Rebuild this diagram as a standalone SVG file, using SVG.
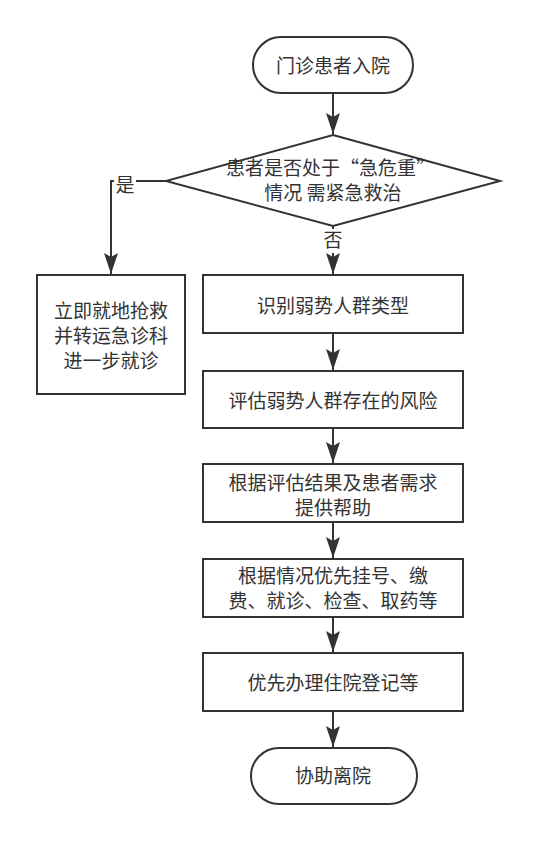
<svg xmlns="http://www.w3.org/2000/svg" width="537" height="841" viewBox="0 0 537 841">
<style>
.s{fill:#fff;stroke:#333;stroke-width:2}
.t{font-family:"Noto Sans CJK SC","Noto Sans",sans-serif;font-size:19px;fill:#333;text-anchor:middle}
.c{fill:none;stroke:#333;stroke-width:2}
</style>
<defs>
<marker id="b" markerUnits="userSpaceOnUse" markerWidth="22" markerHeight="14" refX="21" refY="7" orient="auto" viewBox="0 0 22 14">
<path d="M0,0 L21,7 L0,14 L4,7 Z" fill="#333"/>
</marker>
</defs>
<rect width="537" height="841" fill="#fff"/>
<g id="connectors">
<path class="c" d="M333,93 L333,134" marker-end="url(#b)"/>
<path class="c" d="M166,181 L111,181 L111,274" marker-end="url(#b)"/>
<path class="c" d="M333,226 L333,274" marker-end="url(#b)"/>
<path class="c" d="M333,333 L333,370" marker-end="url(#b)"/>
<path class="c" d="M333,428 L333,463" marker-end="url(#b)"/>
<path class="c" d="M333,522 L333,558" marker-end="url(#b)"/>
<path class="c" d="M333,617 L333,652" marker-end="url(#b)"/>
<path class="c" d="M333,711 L333,747" marker-end="url(#b)"/>
<rect x="114" y="172" width="22" height="24" fill="#fff"/>
<text class="t" x="125" y="192">是</text>
<rect x="322" y="229" width="22" height="24" fill="#fff"/>
<text class="t" x="333" y="247">否</text>
</g>
<g id="start">
<rect class="s" x="253" y="37" width="160" height="56" rx="28"/>
<text class="t" x="333" y="73">门诊患者入院</text>
</g>
<g id="decision">
<path class="s" d="M333,135 L500,181 L333,226 L166,181 Z"/>
<text class="t"><tspan x="226" y="175" style="text-anchor:start">患者是否处于“急危重”</tspan><tspan x="333" y="200">情况 需紧急救治</tspan></text>
</g>
<g id="rescue">
<rect class="s" x="37" y="275" width="148" height="119"/>
<text class="t"><tspan x="111" y="318">立即就地抢救</tspan><tspan x="111" y="343">并转运急诊科</tspan><tspan x="111" y="368">进一步就诊</tspan></text>
</g>
<g id="identify">
<rect class="s" x="203" y="275" width="260" height="58"/>
<text class="t" x="333" y="313">识别弱势人群类型</text>
</g>
<g id="assess">
<rect class="s" x="203" y="371" width="260" height="57"/>
<text class="t" x="333" y="408">评估弱势人群存在的风险</text>
</g>
<g id="help">
<rect class="s" x="203" y="464" width="260" height="58"/>
<text class="t"><tspan x="333" y="490">根据评估结果及患者需求</tspan><tspan x="333" y="515">提供帮助</tspan></text>
</g>
<g id="priority">
<rect class="s" x="203" y="559" width="260" height="58"/>
<text class="t"><tspan x="333" y="583">根据情况优先挂号、缴</tspan><tspan x="333" y="608">费、就诊、检查、取药等</tspan></text>
</g>
<g id="admit">
<rect class="s" x="203" y="653" width="260" height="58"/>
<text class="t" x="333" y="690">优先办理住院登记等</text>
</g>
<g id="end">
<rect class="s" x="251" y="748" width="166" height="56" rx="28"/>
<text class="t" x="333" y="783">协助离院</text>
</g>
</svg>
